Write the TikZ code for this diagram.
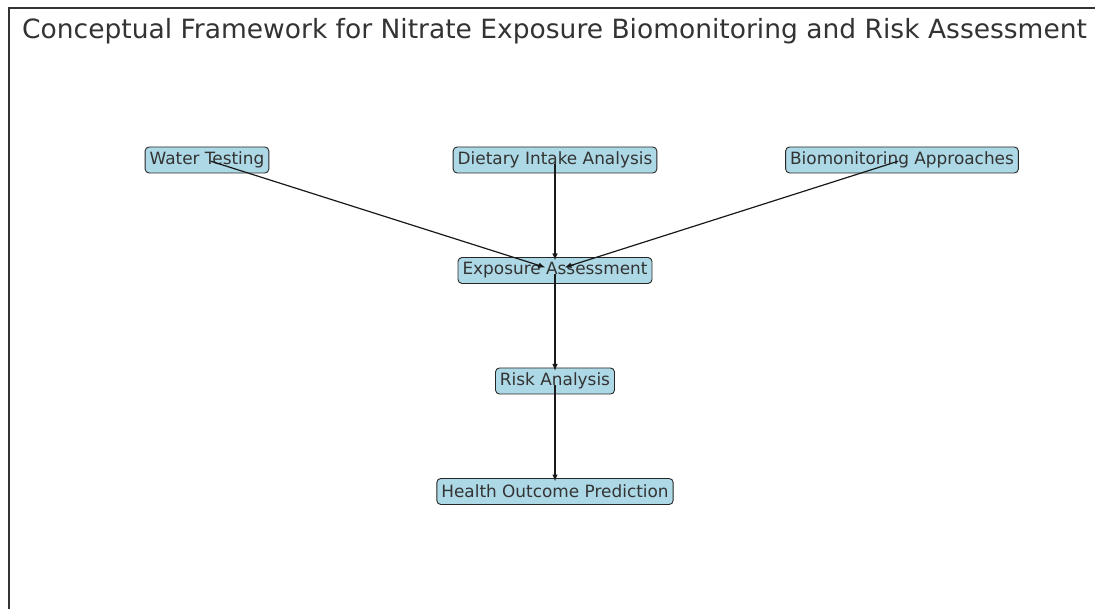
\documentclass[tikz,border=0pt]{standalone}
\usepackage{fontspec}
\setmainfont{DejaVu Sans}
\definecolor{nodeBlue}{HTML}{ADD8E6}
\definecolor{inkGray}{HTML}{333333}
\usetikzlibrary{arrows.meta,positioning}

\begin{document}
\begin{tikzpicture}[
  x=1pt,y=1pt,
  box/.style={draw=black!85,rounded corners=4pt,fill=nodeBlue,line width=0.9pt,
              inner xsep=4.5pt,inner ysep=0pt,minimum height=26pt,
              text=inkGray,font=\fontsize{16.9}{20}\selectfont},
  arr/.style={-{Latex[length=7pt,width=5.5pt]},black!90,line width=1.2pt,
              shorten >=10pt,shorten <=4pt},
  frame/.style={black!80,line width=1.2pt},
  node distance=83.6pt
]
  \useasboundingbox (0,0) rectangle (1095,-609);

  % frame and title
  \draw[frame] (9,-609) -- (9,-8) -- (1095,-8);
  \node[anchor=base west,inner sep=0pt,text=inkGray,
        font=\fontsize{26.5}{32}\selectfont] (title) at (22,-39)
        {Conceptual Framework for Nitrate Exposure Biomonitoring and Risk Assessment};

  % Row 1 -- sources
  \node[box] (diet)  at (555,-160) {Dietary Intake Analysis};
  \node[box] (water) at ([xshift=-348pt]diet) {Water Testing};
  \node[box] (bio)   at ([xshift=347pt]diet)  {Biomonitoring Approaches};

  % chain
  \node[box,below=of diet] (expo)   {Exposure Assessment};
  \node[box,below=of expo] (risk)   {Risk Analysis};
  \node[box,below=of risk] (health) {Health Outcome Prediction};

  \draw[arr] (water.center) -- (expo.center);
  \draw[arr] (diet.center)  -- (expo.center);
  \draw[arr] (bio.center)   -- (expo.center);
  \draw[arr] (expo.center)  -- (risk.center);
  \draw[arr] (risk.center)  -- (health.center);
\end{tikzpicture}
\end{document}
